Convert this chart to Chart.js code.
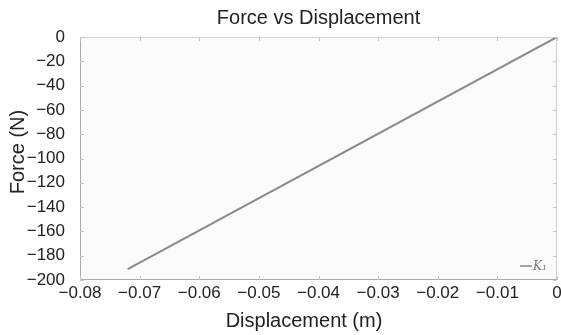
<!DOCTYPE html>
<html><head><meta charset="utf-8">
<script src="https://cdn.jsdelivr.net/npm/chart.js@4/dist/chart.umd.min.js"></script>
<style>html,body{margin:0;padding:0;background:#fff;}#wrap{width:561px;height:335px;}</style>
</head><body><div id="wrap"><canvas id="c" width="561" height="335"></canvas></div>
<script>
const displacement = [-0.072, 0];
const force = [-191, 0];
const seriesLabel = 'K\u2081';
const chartTitle = 'Force vs Displacement';
const xTitle = 'Displacement (m)';
const yTitle = 'Force (N)';
const xTicks = [-0.08, -0.07, -0.06, -0.05, -0.04, -0.03, -0.02, -0.01, 0];
const yTicks = [-200, -180, -160, -140, -120, -100, -80, -60, -40, -20, 0];

const FONT = "'Liberation Sans', Arial, Helvetica, sans-serif";
const fmt = v => (v < 0 ? '\u2212' : '') + String(Math.abs(v));

const boxPlugin = {
  id: 'box',
  beforeDraw(chart) {
    const {ctx, chartArea: a} = chart;
    ctx.save();
    ctx.fillStyle = '#fbfbfb';
    ctx.fillRect(a.left, a.top, a.right - a.left, a.bottom - a.top);
    ctx.restore();
  },
  afterDatasetsDraw(chart) {
    const {ctx, chartArea: a, scales} = chart;
    ctx.save();
    ctx.lineWidth = 1;
    ctx.strokeStyle = '#d0d0d0';
    ctx.beginPath();
    ctx.moveTo(a.left, a.top + 0.5); ctx.lineTo(a.right, a.top + 0.5);
    ctx.moveTo(a.right - 0.5, a.top); ctx.lineTo(a.right - 0.5, a.bottom);
    ctx.stroke();
    ctx.strokeStyle = '#aaaaaa';
    ctx.beginPath();
    ctx.moveTo(a.left + 0.5, a.top); ctx.lineTo(a.left + 0.5, a.bottom);
    ctx.moveTo(a.left, a.bottom - 0.5); ctx.lineTo(a.right, a.bottom - 0.5);
    ctx.stroke();
    ctx.strokeStyle = '#c4c4c4';
    ctx.beginPath();
    const L = 4;
    scales.x.ticks.forEach(t => {
      const px = Math.round(scales.x.getPixelForValue(t.value)) + 0.5;
      ctx.moveTo(px, a.bottom); ctx.lineTo(px, a.bottom - L);
      ctx.moveTo(px, a.top); ctx.lineTo(px, a.top + L);
    });
    scales.y.ticks.forEach(t => {
      const py = Math.round(scales.y.getPixelForValue(t.value)) + 0.5;
      ctx.moveTo(a.left, py); ctx.lineTo(a.left + L, py);
      ctx.moveTo(a.right, py); ctx.lineTo(a.right - L, py);
    });
    ctx.stroke();
    // titles
    ctx.fillStyle = '#222';
    ctx.textAlign = 'center';
    ctx.textBaseline = 'middle';
    ctx.font = '20px ' + FONT;
    ctx.fillText(chartTitle, (a.left + a.right) / 2, 18);
    ctx.fillText(xTitle, 304, 321);
    ctx.save();
    ctx.translate(18, 152);
    ctx.rotate(-Math.PI / 2);
    ctx.fillText(yTitle, 0, 0);
    ctx.restore();
    // legend
    const lx = a.right - 37, ly = a.bottom - 14;
    ctx.strokeStyle = '#888';
    ctx.lineWidth = 1.5;
    ctx.beginPath(); ctx.moveTo(lx, ly); ctx.lineTo(lx + 12, ly); ctx.stroke();
    ctx.fillStyle = '#777';
    ctx.font = 'italic 12px "DejaVu Serif", "Liberation Serif", serif';
    ctx.textAlign = 'left';
    ctx.fillText(chart.data.datasets[0].label, lx + 13, ly + 1);
    ctx.restore();
  }
};

new Chart(document.getElementById('c'), {
  type: 'line',
  data: {
    datasets: [{
      label: seriesLabel,
      data: displacement.map((x, i) => ({x: x, y: force[i]})),
      borderColor: '#8a8a8a',
      borderWidth: 2,
      pointRadius: 0,
      fill: false,
      tension: 0
    }]
  },
  options: {
    responsive: false,
    animation: false,
    layout: {padding: {top: 37, right: 4, left: 0, bottom: 0}},
    plugins: {legend: {display: false}, tooltip: {enabled: false}, title: {display: false}},
    scales: {
      x: {
        type: 'linear', min: -0.08, max: 0,
        afterBuildTicks: s => { s.ticks = xTicks.map(v => ({value: v})); },
        afterFit: s => { s.height = 55; },
        grid: {display: false},
        border: {display: false},
        ticks: {color: '#222', font: {family: FONT, size: 17}, padding: -5, maxRotation: 0, autoSkip: false,
                callback: v => fmt(Number(v.toFixed(2)))},
        title: {display: false}
      },
      y: {
        type: 'linear', min: -200, max: 0,
        afterBuildTicks: s => { s.ticks = yTicks.map(v => ({value: v})); },
        afterFit: s => { s.width = 80; },
        grid: {display: false},
        border: {display: false},
        ticks: {color: '#222', font: {family: FONT, size: 17}, padding: 7, autoSkip: false,
                callback: v => fmt(v)},
        title: {display: false}
      }
    }
  },
  plugins: [boxPlugin]
});
</script>
</body></html>
